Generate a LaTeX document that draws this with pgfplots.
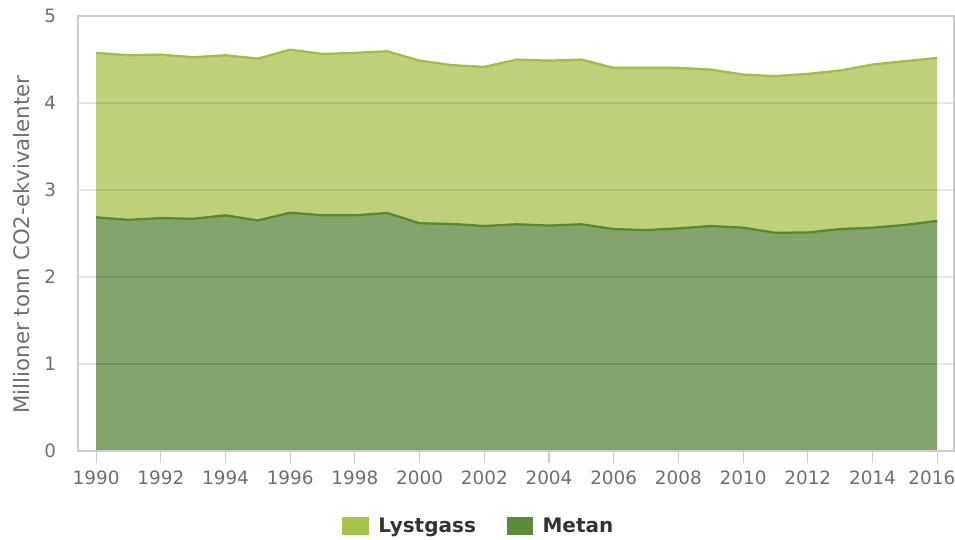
\documentclass[border=0pt]{standalone}
\usepackage{pgfplots}
\pgfplotsset{compat=1.18}
\usepackage{pgfplotstable}
\usepackage{fontspec}
\setmainfont{DejaVu Sans}
\definecolor{lystfill}{HTML}{BED17A}
\definecolor{metanfill}{HTML}{83A46D}
\definecolor{lystline}{HTML}{9FBD4A}
\definecolor{metanline}{HTML}{5A8A2E}
\definecolor{lystleg}{HTML}{A8C24E}
\definecolor{metanleg}{HTML}{5B8A3A}
\definecolor{tickgray}{HTML}{6E6E6E}
\definecolor{axgray}{HTML}{CCCCCC}

\pgfplotstableread{
year metan lystgass
1990 2.686 1.890
1991 2.657 1.892
1992 2.677 1.879
1993 2.669 1.857
1994 2.709 1.840
1995 2.650 1.860
1996 2.740 1.873
1997 2.709 1.855
1998 2.709 1.867
1999 2.736 1.859
2000 2.618 1.869
2001 2.610 1.825
2002 2.586 1.829
2003 2.606 1.893
2004 2.591 1.896
2005 2.606 1.893
2006 2.551 1.853
2007 2.539 1.865
2008 2.559 1.845
2009 2.586 1.798
2010 2.567 1.760
2011 2.508 1.801
2012 2.512 1.823
2013 2.551 1.822
2014 2.567 1.875
2015 2.598 1.883
2016 2.645 1.873
}\data

\begin{document}
\begin{tikzpicture}
\path[use as bounding box] (0,0) rectangle (716.25pt,404.25pt);
\begin{axis}[
  at={(58.5pt,66pt)}, anchor=south west,
  scale only axis, width=657pt, height=326.25pt,
  xmin=1989.44, xmax=2016.52, ymin=0, ymax=5,
  xtick={1990,1992,...,2014}, ytick={0,1,...,5},
  extra x ticks={2016},
  extra x tick style={grid=none, xticklabel style={xshift=-4pt}},
  /pgf/number format/.cd, 1000 sep={}, assume math mode=true, /pgfplots/.cd,
  axis line style={draw=axgray, line width=0.8pt},
  axis on top,
  tick pos=left,
  ymajorgrids, major grid style={draw=black, opacity=0.09, line width=0.8pt},
  tick align=outside,
  xtick style={draw=axgray, line width=0.8pt},
  major tick length=9pt,
  ytick style={draw=none},
  x tick label style={font=\fontsize{13.8}{15}\selectfont, text=tickgray, yshift=-2pt},
  y tick label style={font=\fontsize{13.8}{15}\selectfont, text=tickgray, xshift=-4pt},
  ylabel={Millioner tonn CO2-ekvivalenter},
  ylabel style={font=\fontsize{16}{18}\selectfont, text=tickgray, at={(axis description cs:-0.065,0.475)}, anchor=center},
  legend style={at={(axis description cs:0.458,-0.172)}, anchor=center, legend columns=2, draw=none, fill=none,
    font=\bfseries\fontsize{15}{17}\selectfont, text=black!80,
    /tikz/every odd column/.append style={column sep=5pt},
    /tikz/every even column/.append style={column sep=21pt}},
  legend image code/.code={\fill[#1] (0pt,-6.75pt) rectangle (20pt,6.75pt);},
]
\addplot[fill=lystfill, draw=none, forget plot] table[x=year, y expr=\thisrow{metan}+\thisrow{lystgass}] {\data} \closedcycle;
\addplot[fill=metanfill, draw=none, forget plot] table[x=year, y=metan] {\data} \closedcycle;
\addplot[lystline, line width=1.7pt, forget plot] table[x=year, y expr=\thisrow{metan}+\thisrow{lystgass}] {\data};
\addplot[metanline, line width=1.7pt, forget plot] table[x=year, y=metan] {\data};
\addlegendimage{fill=lystleg, draw=none}
\addlegendentry{Lystgass}
\addlegendimage{fill=metanleg, draw=none}
\addlegendentry{Metan}
\end{axis}
\end{tikzpicture}
\end{document}
